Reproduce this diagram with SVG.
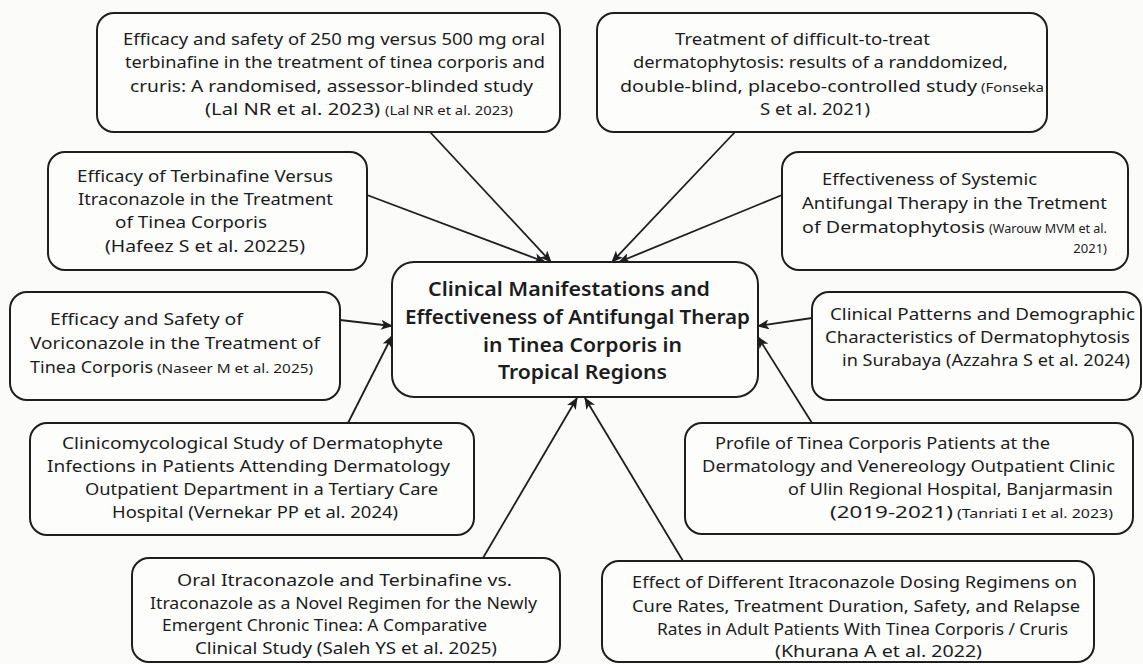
<svg xmlns="http://www.w3.org/2000/svg" width="1143" height="664" viewBox="0 0 1143 664">
<defs>
<style>
.box{fill:#fdfdfc;stroke:#1e1e1e;stroke-width:2}
.t{font-family:"Noto Sans","Open Sans","DejaVu Sans",sans-serif;font-size:17px;fill:#1c1c1c}
.s{font-size:13px}
.h{font-size:20px;font-weight:600}
.c{fill:none;stroke:#1e1e1e;stroke-width:1.8}
</style>
<marker id="ah" viewBox="0 0 12 10" refX="11" refY="5" markerWidth="12" markerHeight="10" markerUnits="userSpaceOnUse" orient="auto">
<path d="M0,0 L12,5 L0,10 L3,5 Z" fill="#1e1e1e"/>
</marker>
</defs>
<rect width="1143" height="664" fill="#fbfbfa"/>
<g id="connectors">
<path class="c" d="M430,132 L551,262" marker-end="url(#ah)"/>
<path class="c" d="M735,132 L612,262" marker-end="url(#ah)"/>
<path class="c" d="M367,195 L545,262" marker-end="url(#ah)"/>
<path class="c" d="M782,195 L619,262" marker-end="url(#ah)"/>
<path class="c" d="M340,320 L392,326" marker-end="url(#ah)"/>
<path class="c" d="M812,318 L758,326" marker-end="url(#ah)"/>
<path class="c" d="M348,423 L392,336" marker-end="url(#ah)"/>
<path class="c" d="M812,423 L758,337" marker-end="url(#ah)"/>
<path class="c" d="M483,558 L577,398" marker-end="url(#ah)"/>
<path class="c" d="M683,561 L585,398" marker-end="url(#ah)"/>
</g>
<g id="n1">
<rect class="box" x="97" y="13" width="463" height="119" rx="17"/>
<text class="t" x="123" y="45" textLength="422" lengthAdjust="spacingAndGlyphs">Efficacy and safety of 250 mg versus 500 mg oral</text>
<text class="t" x="125" y="68" textLength="420" lengthAdjust="spacingAndGlyphs">terbinafine in the treatment of tinea corporis and</text>
<text class="t" x="130" y="92" textLength="403" lengthAdjust="spacingAndGlyphs">cruris: A randomised, assessor-blinded study</text>
<text class="t" x="205" y="115" textLength="175" lengthAdjust="spacingAndGlyphs">(Lal NR et al. 2023)</text>
<text class="t s" x="385" y="115" textLength="128" lengthAdjust="spacingAndGlyphs">(Lal NR et al. 2023)</text>
</g>
<g id="n2">
<rect class="box" x="597" y="13" width="450" height="119" rx="17"/>
<text class="t" x="675" y="45" textLength="255" lengthAdjust="spacingAndGlyphs">Treatment of difficult-to-treat</text>
<text class="t" x="633" y="68" textLength="375" lengthAdjust="spacingAndGlyphs">dermatophytosis: results of a randdomized,</text>
<text class="t" x="620" y="92" textLength="357" lengthAdjust="spacingAndGlyphs">double-blind, placebo-controlled study</text>
<text class="t s" x="981" y="92" textLength="63" lengthAdjust="spacingAndGlyphs">(Fonseka</text>
<text class="t" x="760" y="115" textLength="110" lengthAdjust="spacingAndGlyphs">S et al. 2021)</text>
</g>
<g id="n3">
<rect class="box" x="48" y="152" width="319" height="118" rx="17"/>
<text class="t" x="77" y="182" textLength="256" lengthAdjust="spacingAndGlyphs">Efficacy of Terbinafine Versus</text>
<text class="t" x="78" y="205" textLength="255" lengthAdjust="spacingAndGlyphs">Itraconazole in the Treatment</text>
<text class="t" x="115" y="228" textLength="152" lengthAdjust="spacingAndGlyphs">of Tinea Corporis</text>
<text class="t" x="105" y="252" textLength="200" lengthAdjust="spacingAndGlyphs">(Hafeez S et al. 20225)</text>
</g>
<g id="n4">
<rect class="box" x="782" y="152" width="346" height="118" rx="17"/>
<text class="t" x="822" y="185" textLength="215" lengthAdjust="spacingAndGlyphs">Effectiveness of Systemic</text>
<text class="t" x="802" y="209" textLength="305" lengthAdjust="spacingAndGlyphs">Antifungal Therapy in the Tretment</text>
<text class="t" x="802" y="233" textLength="183" lengthAdjust="spacingAndGlyphs">of Dermatophytosis</text>
<text class="t s" x="989" y="233" textLength="118" lengthAdjust="spacingAndGlyphs">(Warouw MVM et al.</text>
<text class="t s" x="1107" y="253" text-anchor="end">2021)</text>
</g>
<g id="n5">
<rect class="box" x="10" y="292" width="330" height="108" rx="17"/>
<text class="t" x="50" y="325" textLength="193" lengthAdjust="spacingAndGlyphs">Efficacy and Safety of</text>
<text class="t" x="30" y="349" textLength="290" lengthAdjust="spacingAndGlyphs">Voriconazole in the Treatment of</text>
<text class="t" x="30" y="373" textLength="123" lengthAdjust="spacingAndGlyphs">Tinea Corporis</text>
<text class="t s" x="157" y="373" textLength="156" lengthAdjust="spacingAndGlyphs">(Naseer M et al. 2025)</text>
</g>
<g id="center">
<rect class="box" x="392" y="262" width="366" height="135" rx="22"/>
<text class="t h" x="428" y="296" textLength="282" lengthAdjust="spacingAndGlyphs">Clinical Manifestations and</text>
<text class="t h" x="405" y="324" textLength="345" lengthAdjust="spacingAndGlyphs">Effectiveness of Antifungal Therap</text>
<text class="t h" x="483" y="352" textLength="199" lengthAdjust="spacingAndGlyphs">in Tinea Corporis in</text>
<text class="t h" x="498" y="379" textLength="169" lengthAdjust="spacingAndGlyphs">Tropical Regions</text>
</g>
<g id="n7">
<rect class="box" x="812" y="292" width="329" height="108" rx="17"/>
<text class="t" x="830" y="320" textLength="305" lengthAdjust="spacingAndGlyphs">Clinical Patterns and Demographic</text>
<text class="t" x="825" y="343" textLength="305" lengthAdjust="spacingAndGlyphs">Characteristics of Dermatophytosis</text>
<text class="t" x="842" y="366" textLength="288" lengthAdjust="spacingAndGlyphs">in Surabaya (Azzahra S et al. 2024)</text>
</g>
<g id="n8">
<rect class="box" x="30" y="423" width="444" height="112" rx="17"/>
<text class="t" x="62" y="449" textLength="381" lengthAdjust="spacingAndGlyphs">Clinicomycological Study of Dermatophyte</text>
<text class="t" x="47" y="472" textLength="403" lengthAdjust="spacingAndGlyphs">Infections in Patients Attending Dermatology</text>
<text class="t" x="85" y="495" textLength="353" lengthAdjust="spacingAndGlyphs">Outpatient Department in a Tertiary Care</text>
<text class="t" x="112" y="518" textLength="286" lengthAdjust="spacingAndGlyphs">Hospital (Vernekar PP et al. 2024)</text>
</g>
<g id="n9">
<rect class="box" x="685" y="423" width="448" height="111" rx="17"/>
<text class="t" x="715" y="449" textLength="335" lengthAdjust="spacingAndGlyphs">Profile of Tinea Corporis Patients at the</text>
<text class="t" x="702" y="472" textLength="413" lengthAdjust="spacingAndGlyphs">Dermatology and Venereology Outpatient Clinic</text>
<text class="t" x="788" y="495" textLength="325" lengthAdjust="spacingAndGlyphs">of Ulin Regional Hospital, Banjarmasin</text>
<text class="t" x="830" y="518" textLength="123" lengthAdjust="spacingAndGlyphs">(2019-2021)</text>
<text class="t s" x="957" y="518" textLength="156" lengthAdjust="spacingAndGlyphs">(Tanriati I et al. 2023)</text>
</g>
<g id="n10">
<rect class="box" x="132" y="558" width="428" height="104" rx="17"/>
<text class="t" x="177" y="586" textLength="335" lengthAdjust="spacingAndGlyphs">Oral Itraconazole and Terbinafine vs.</text>
<text class="t" x="150" y="609" textLength="387" lengthAdjust="spacingAndGlyphs">Itraconazole as a Novel Regimen for the Newly</text>
<text class="t" x="162" y="631" textLength="325" lengthAdjust="spacingAndGlyphs">Emergent Chronic Tinea: A Comparative</text>
<text class="t" x="195" y="654" textLength="302" lengthAdjust="spacingAndGlyphs">Clinical Study (Saleh YS et al. 2025)</text>
</g>
<g id="n11">
<rect class="box" x="602" y="561" width="492" height="101" rx="17"/>
<text class="t" x="632" y="588" textLength="445" lengthAdjust="spacingAndGlyphs">Effect of Different Itraconazole Dosing Regimens on</text>
<text class="t" x="632" y="612" textLength="448" lengthAdjust="spacingAndGlyphs">Cure Rates, Treatment Duration, Safety, and Relapse</text>
<text class="t" x="657" y="635" textLength="411" lengthAdjust="spacingAndGlyphs">Rates in Adult Patients With Tinea Corporis / Cruris</text>
<text class="t" x="775" y="657" textLength="207" lengthAdjust="spacingAndGlyphs">(Khurana A et al. 2022)</text>
</g>
</svg>
